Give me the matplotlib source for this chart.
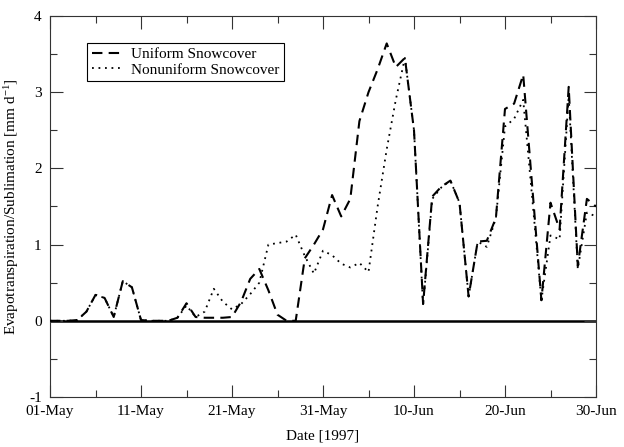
import datetime as dt
import matplotlib
matplotlib.use("Agg")
import matplotlib.pyplot as plt
import matplotlib.dates as mdates
import pandas as pd

plt.rcParams['font.family'] = ['Liberation Serif', 'DejaVu Serif']
plt.rcParams['axes.unicode_minus'] = False
plt.rcParams['mathtext.fontset'] = 'custom'
plt.rcParams['mathtext.rm'] = 'Liberation Serif'
plt.rcParams['mathtext.default'] = 'rm'

# daily values, 01-May .. 30-Jun 1997 [mm/d]
dates = pd.date_range('1997-05-01', periods=61, freq='D')
uniform = [0.0, 0.0, 0.0, 0.01, 0.12, 0.34, 0.30, 0.05, 0.52, 0.44,
           0.01, 0.0, 0.0, 0.0, 0.04, 0.23, 0.05, 0.04, 0.04, 0.04,
           0.05, 0.25, 0.55, 0.68, 0.40, 0.08, 0.0, 0.0, 0.82, 1.0,
           1.2, 1.65, 1.37, 1.6, 2.62, 3.0, 3.3, 3.64, 3.33, 3.45,
           2.5, 0.22, 1.63, 1.76, 1.84, 1.55, 0.32, 1.04, 1.05, 1.35,
           2.78, 2.85, 3.23, 1.75, 0.27, 1.55, 1.2, 3.07, 0.72, 1.6, 1.5]
nonuniform = [0.0, 0.0, 0.0, 0.01, 0.12, 0.34, 0.30, 0.05, 0.52, 0.44,
              0.01, 0.0, 0.0, 0.0, 0.04, 0.2, 0.05, 0.12, 0.42, 0.25,
              0.15, 0.22, 0.35, 0.5, 1.0, 1.02, 1.04, 1.13, 0.85, 0.62,
              0.92, 0.86, 0.75, 0.70, 0.76, 0.64, 1.5, 2.25, 2.9, 3.45,
              2.5, 0.2, 1.6, 1.75, 1.84, 1.55, 0.32, 1.04, 0.97, 1.35,
              2.55, 2.65, 2.9, 1.6, 0.27, 1.12, 1.07, 2.95, 0.68, 1.42, 1.37]
labels = ["Uniform Snowcover", "Nonuniform Snowcover"]

fig = plt.figure(figsize=(6.24, 4.47), dpi=100)
ax = fig.add_axes([50 / 624, 1 - 397 / 447, 546 / 624, 381 / 447])

# zero line first, data on top
ax.axhline(0, color='k', lw=1.8, zorder=1)
ax.plot(dates, nonuniform, color='k', lw=1.3, linestyle=(0, (1, 2.6)),
        label=labels[1], zorder=2)
ax.plot(dates, uniform, color='k', lw=1.5, linestyle=(0, (5, 3)),
        label=labels[0], zorder=3)

ax.set_xlim(dt.datetime(1997, 5, 1), dt.datetime(1997, 6, 30))
ax.set_ylim(-1, 4)

# major ticks every 10 days, minor in between
ax.set_xticks([dt.datetime(1997, 5, 1) + dt.timedelta(days=10 * i) for i in range(7)])
ax.set_xticks([dt.datetime(1997, 5, 1) + dt.timedelta(days=5 + 10 * i) for i in range(6)],
              minor=True)
ax.xaxis.set_major_formatter(mdates.DateFormatter('%d-%b'))
ax.set_yticks([-1, 0, 1, 2, 3, 4])
ax.set_yticks([-0.5, 0.5, 1.5, 2.5, 3.5], minor=True)

ax.tick_params(which='both', direction='in', top=True, right=True,
               labelsize=11, width=0.8, color='#333333')
ax.tick_params(which='major', length=9, pad=6)
ax.tick_params(which='minor', length=5)
for s in ax.spines.values():
    s.set_linewidth(0.8)
    s.set_color('#333333')

ax.set_xlabel("Date [1997]", fontsize=11, labelpad=8)
ax.set_ylabel("Evapotranspiration/Sublimation [mm d$^{-1}$]", fontsize=11,
              labelpad=6)

# legend order: uniform first
h, l = ax.get_legend_handles_labels()
leg = ax.legend(h[::-1], l[::-1], loc='upper left', bbox_to_anchor=(0.068, 0.929),
                borderaxespad=0, fancybox=False, edgecolor='k', framealpha=1,
                fontsize=11, handlelength=2.0, handletextpad=0.6,
                borderpad=0.3, labelspacing=0.1)
leg.get_frame().set_linewidth(0.8)

fig.savefig("out.png", dpi=100)
